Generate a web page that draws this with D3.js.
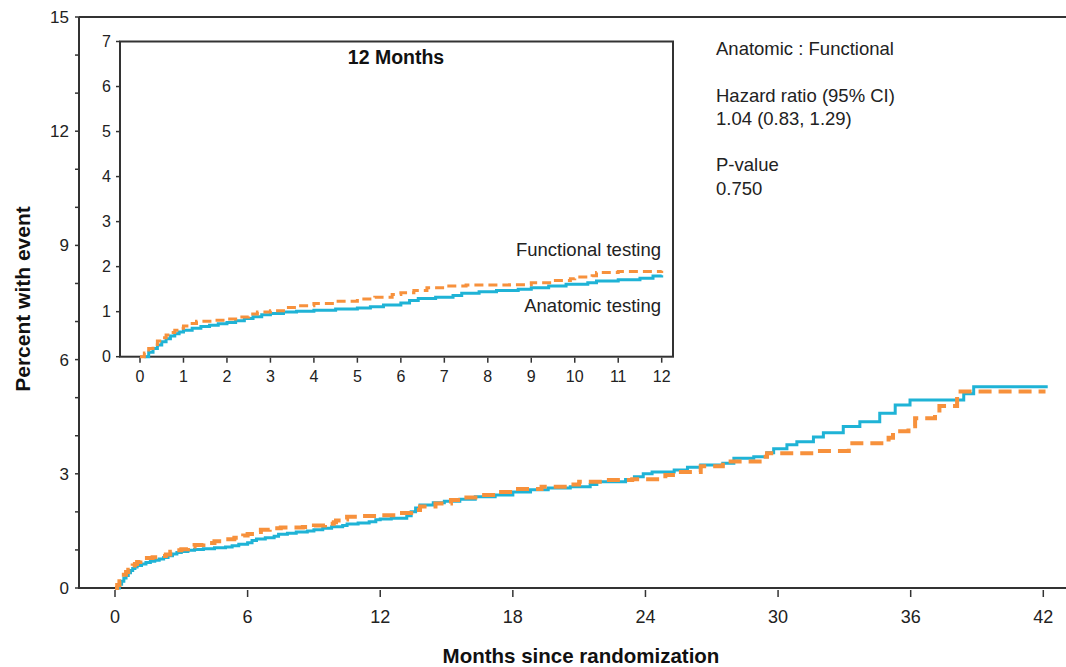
<!DOCTYPE html>
<html>
<head>
<meta charset="utf-8">
<script src="https://cdn.jsdelivr.net/npm/d3@7"></script>
<style>
  body { margin: 0; background: #fff; }
  svg { display: block; font-family: "Liberation Sans", Arial, sans-serif; }
</style>
</head>
<body>
<svg id="chart" width="1066" height="667"></svg>
<script>
// Cumulative event curves: [month, percent with event]
const anatomic = [
  [0.1,0],[0.2,0.1],[0.3,0.18],[0.4,0.26],[0.5,0.33],[0.6,0.4],[0.7,0.46],[0.8,0.51],[0.9,0.55],
  [1.0,0.59],[1.2,0.63],[1.4,0.67],[1.6,0.7],[1.8,0.73],[2.0,0.76],[2.2,0.8],[2.4,0.85],[2.6,0.89],
  [2.8,0.93],[3.0,0.96],[3.3,0.99],[3.6,1.01],[4.0,1.03],[4.5,1.06],[5.0,1.08],[5.3,1.11],[5.6,1.15],
  [6.0,1.19],[6.2,1.25],[6.4,1.29],[6.8,1.32],[7.2,1.36],[7.4,1.41],[7.8,1.44],[8.2,1.47],[8.7,1.5],
  [9.0,1.53],[9.4,1.57],[9.8,1.61],[10.3,1.64],[10.5,1.68],[11.0,1.71],[11.5,1.74],[11.8,1.79],[12.0,1.81],
  [12.5,1.83],[13.2,1.9],[13.4,2.0],[13.6,2.1],[13.8,2.18],[14.4,2.24],[14.9,2.28],[15.6,2.33],[16.3,2.4],
  [17.2,2.44],[18.0,2.52],[18.8,2.58],[19.6,2.63],[20.6,2.66],[21.5,2.72],[21.8,2.79],[23.1,2.85],[23.5,2.92],
  [23.9,3.0],[24.3,3.05],[25.3,3.1],[25.9,3.17],[26.5,3.23],[27.5,3.28],[28.0,3.41],[28.9,3.45],[29.5,3.55],
  [29.8,3.66],[30.4,3.76],[30.85,3.84],[31.6,3.97],[32.05,4.08],[32.95,4.24],[33.7,4.37],[34.6,4.59],
  [35.3,4.81],[35.97,4.94],[38.4,5.1],[38.85,5.29],[42.2,5.29]
];
const functional = [
  [0,0],[0.1,0.08],[0.2,0.18],[0.3,0.27],[0.4,0.35],[0.5,0.42],[0.6,0.48],[0.7,0.54],[0.8,0.59],
  [0.9,0.63],[1.0,0.68],[1.15,0.74],[1.3,0.79],[1.7,0.81],[2.0,0.84],[2.3,0.88],[2.5,0.95],[2.7,0.99],
  [3.0,1.02],[3.3,1.09],[3.6,1.13],[4.0,1.18],[4.5,1.23],[5.0,1.28],[5.4,1.32],[5.8,1.38],[6.0,1.42],
  [6.3,1.47],[6.6,1.53],[7.0,1.57],[7.5,1.59],[8.5,1.6],[9.0,1.64],[9.5,1.69],[9.9,1.73],[10.0,1.77],
  [10.4,1.8],[10.5,1.87],[11.0,1.89],[12.0,1.91],
  [12.8,1.97],[13.4,2.05],[13.8,2.14],[14.5,2.22],[15.2,2.31],[15.8,2.38],[16.4,2.44],[17.3,2.52],
  [18.0,2.6],[19.3,2.66],[20.6,2.72],[21.0,2.79],[22.2,2.84],[23.4,2.86],[24.9,2.97],[25.4,3.05],
  [26.5,3.2],[27.5,3.32],[29.3,3.45],[29.5,3.54],[31.7,3.6],[33.2,3.8],[35.0,3.95],[35.2,4.12],
  [35.9,4.25],[36.2,4.46],[37.1,4.6],[37.3,4.78],[38.1,5.16],[42.1,5.16]
];

const mainXTicks = [0, 6, 12, 18, 24, 30, 36, 42];
const mainYTicks = [0, 3, 6, 9, 12, 15];
const mainYMinor = d3.range(0, 16, 1);
const insetXTicks = d3.range(0, 13, 1);
const insetYTicks = d3.range(0, 8, 1);
const statsLines = ["Anatomic : Functional", "", "Hazard ratio (95% CI)", "1.04 (0.83, 1.29)", "", "P-value", "0.750"];

const blue = "#1fb3d6";
const orange = "#f7913c";
const axisColor = "#333";

const svg = d3.select("#chart");

// ---------- main panel ----------
const x = d3.scaleLinear().domain([0, 42]).range([115, 1043.3]);
const y = d3.scaleLinear().domain([0, 15]).range([588, 17]);

// frame: top and left edges, bottom axis spans to the right edge
svg.append("line").attr("x1", 79).attr("x2", 1066).attr("y1", y(15)).attr("y2", y(15))
  .attr("stroke", axisColor).attr("stroke-width", 2);
svg.append("line").attr("x1", 79).attr("x2", 79).attr("y1", y(15)).attr("y2", y(0))
  .attr("stroke", axisColor).attr("stroke-width", 2);
svg.append("line").attr("x1", 78).attr("x2", 1066).attr("y1", y(0)).attr("y2", y(0))
  .attr("stroke", axisColor).attr("stroke-width", 2);

// y ticks
svg.append("g").selectAll("line").data(mainYMinor).join("line")
  .attr("x1", 75).attr("x2", 79).attr("y1", d => y(d)).attr("y2", d => y(d))
  .attr("stroke", axisColor).attr("stroke-width", 1.5);
svg.append("g").selectAll("text").data(mainYTicks).join("text")
  .attr("x", 69).attr("y", d => y(d)).attr("dy", "0.35em")
  .attr("text-anchor", "end").attr("font-size", 17).attr("fill", "#222")
  .text(d => d);

// x ticks
svg.append("g").selectAll("line").data(mainXTicks).join("line")
  .attr("x1", d => x(d)).attr("x2", d => x(d)).attr("y1", 590).attr("y2", 597)
  .attr("stroke", axisColor).attr("stroke-width", 1.5);
svg.append("g").selectAll("text").data(mainXTicks).join("text")
  .attr("x", d => x(d)).attr("y", 617).attr("dy", "0.35em")
  .attr("text-anchor", "middle").attr("font-size", 18).attr("fill", "#222")
  .text(d => d);

// axis titles
svg.append("text").attr("x", 581).attr("y", 656).attr("dy", "0.35em")
  .attr("text-anchor", "middle").attr("font-size", 20.5).attr("font-weight", "bold")
  .attr("fill", "#111").text("Months since randomization");
svg.append("text").attr("transform", "translate(23,299) rotate(-90)").attr("dy", "0.35em")
  .attr("text-anchor", "middle").attr("font-size", 21).attr("font-weight", "bold")
  .attr("fill", "#111").text("Percent with event");

// curves
const mainLine = d3.line().x(d => x(d[0])).y(d => y(d[1])).curve(d3.curveStepAfter);
svg.append("path").datum(anatomic).attr("d", mainLine)
  .attr("fill", "none").attr("stroke", blue).attr("stroke-width", 3);
svg.append("path").datum(functional).attr("d", mainLine)
  .attr("fill", "none").attr("stroke", orange).attr("stroke-width", 4)
  .attr("stroke-dasharray", "13,7");

// stats text
svg.append("g").selectAll("text").data(statsLines).join("text")
  .attr("x", 716).attr("y", (d, i) => 49 + i * 23.2).attr("dy", "0.35em")
  .attr("font-size", 18.5).attr("fill", "#222").text(d => d);

// ---------- inset: first 12 months ----------
const ix = d3.scaleLinear().domain([0, 12]).range([140, 661.7]);
const iy = d3.scaleLinear().domain([0, 7]).range([356.7, 41.5]);
const inset = svg.append("g");

inset.append("rect").attr("x", 120).attr("y", iy(7)).attr("width", 673 - 120)
  .attr("height", iy(0) - iy(7)).attr("fill", "#fff")
  .attr("stroke", axisColor).attr("stroke-width", 2);

inset.append("g").selectAll("line").data(insetYTicks).join("line")
  .attr("x1", 116).attr("x2", 120).attr("y1", d => iy(d)).attr("y2", d => iy(d))
  .attr("stroke", axisColor).attr("stroke-width", 1.5);
inset.append("g").selectAll("text").data(insetYTicks).join("text")
  .attr("x", 111).attr("y", d => iy(d)).attr("dy", "0.35em")
  .attr("text-anchor", "end").attr("font-size", 16).attr("fill", "#222")
  .text(d => d);

inset.append("g").selectAll("line").data(insetXTicks).join("line")
  .attr("x1", d => ix(d)).attr("x2", d => ix(d)).attr("y1", iy(0) + 1).attr("y2", iy(0) + 6)
  .attr("stroke", axisColor).attr("stroke-width", 1.5);
inset.append("g").selectAll("text").data(insetXTicks).join("text")
  .attr("x", d => ix(d)).attr("y", 376).attr("dy", "0.35em")
  .attr("text-anchor", "middle").attr("font-size", 16).attr("fill", "#222")
  .text(d => d);

inset.append("text").attr("x", 396).attr("y", 57).attr("dy", "0.35em")
  .attr("text-anchor", "middle").attr("font-size", 19.5).attr("font-weight", "bold")
  .attr("fill", "#111").text("12 Months");

const insetLine = d3.line().x(d => ix(d[0])).y(d => iy(d[1])).curve(d3.curveStepAfter);
inset.append("path").datum(anatomic.filter(d => d[0] <= 12)).attr("d", insetLine)
  .attr("fill", "none").attr("stroke", blue).attr("stroke-width", 3);
inset.append("path").datum(functional.filter(d => d[0] <= 12)).attr("d", insetLine)
  .attr("fill", "none").attr("stroke", orange).attr("stroke-width", 3)
  .attr("stroke-dasharray", "9,5");

inset.append("text").attr("x", 661).attr("y", 250).attr("dy", "0.35em")
  .attr("text-anchor", "end").attr("font-size", 18.5).attr("fill", "#222").text("Functional testing");
inset.append("text").attr("x", 661).attr("y", 306).attr("dy", "0.35em")
  .attr("text-anchor", "end").attr("font-size", 18.5).attr("fill", "#222").text("Anatomic testing");
</script>
</body>
</html>
